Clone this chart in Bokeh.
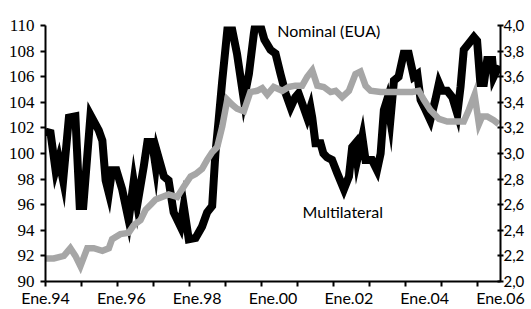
from bokeh.plotting import figure
from bokeh.models import Range1d, LinearAxis, FixedTicker, CustomJSTickFormatter, Label
from bokeh.embed import file_html
from bokeh.resources import INLINE

# ---- data ----
multi_x = [1994.00, 1994.14, 1994.28, 1994.37, 1994.49, 1994.65, 1994.83, 1994.95, 1995.05, 1995.25,
           1995.48, 1995.58, 1995.67, 1995.76, 1995.85, 1995.97, 1996.13, 1996.31, 1996.45, 1996.55,
           1996.73, 1996.83, 1996.96, 1997.06, 1997.10, 1997.29, 1997.42, 1997.56, 1997.75, 1997.84,
           1997.98, 1998.17, 1998.35, 1998.49, 1998.63, 1998.72, 1998.81, 1998.91, 1999.05, 1999.19,
           1999.32, 1999.51, 1999.65, 1999.79, 1999.88, 1999.97, 2000.08, 2000.25, 2000.39, 2000.53,
           2000.67, 2000.81, 2000.94, 2001.03, 2001.17, 2001.27, 2001.36, 2001.41, 2001.50, 2001.64,
           2001.72, 2001.82, 2001.96, 2002.10, 2002.29, 2002.43, 2002.52, 2002.61, 2002.66, 2002.80,
           2002.89, 2003.07, 2003.21, 2003.31, 2003.40, 2003.49, 2003.58, 2003.68, 2003.81, 2003.95,
           2004.09, 2004.23, 2004.33, 2004.42, 2004.56, 2004.69, 2004.83, 2004.93, 2005.02, 2005.16,
           2005.30, 2005.44, 2005.53, 2005.62, 2005.76, 2005.90, 2005.99, 2006.08, 2006.18, 2006.27,
           2006.41, 2006.45, 2006.55, 2006.64]
multi_y = [101.7, 101.6, 98.7, 99.6, 97.9, 102.8, 102.9, 95.9, 95.9, 103.0,
           101.8, 101.0, 97.9, 96.9, 98.7, 98.7, 97.2, 94.8, 97.8, 96.0,
           99.0, 100.9, 100.9, 99.0, 100.1, 98.2, 97.9, 95.4, 94.3, 95.9,
           93.3, 93.4, 94.3, 95.4, 95.9, 100.0, 102.6, 105.7, 109.6, 109.6,
           107.8, 104.2, 106.2, 109.4, 111.0, 110.0, 108.9, 108.1, 107.8, 106.2,
           104.7, 103.6, 104.4, 104.7, 103.6, 102.8, 103.6, 102.8, 100.8, 100.8,
           100.0, 99.7, 99.5, 98.5, 97.2, 98.2, 100.5, 100.8, 99.5, 101.3,
           99.5, 99.5, 98.7, 100.0, 103.4, 104.2, 102.6, 105.7, 106.0, 107.8,
           107.8, 106.0, 106.2, 104.2, 103.4, 102.6, 104.2, 105.5, 104.9, 104.9,
           104.4, 103.1, 105.2, 108.1, 108.6, 109.1, 108.8, 105.5, 105.5, 107.3,
           107.3, 106.0, 106.6, 106.5]

nominal_x = [1994.00, 1994.23, 1994.51, 1994.69, 1994.83, 1994.97, 1995.16, 1995.34, 1995.58, 1995.76,
             1995.85, 1996.08, 1996.31, 1996.45, 1996.64, 1996.78, 1996.92, 1997.06, 1997.24, 1997.42,
             1997.66, 1997.84, 1998.03, 1998.17, 1998.35, 1998.49, 1998.63, 1998.77, 1998.91, 1999.05,
             1999.19, 1999.32, 1999.51, 1999.69, 1999.88, 2000.02, 2000.16, 2000.34, 2000.58, 2000.76,
             2000.94, 2001.13, 2001.27, 2001.41, 2001.55, 2001.73, 2001.92, 2002.06, 2002.24, 2002.43,
             2002.61, 2002.75, 2002.89, 2003.03, 2003.31, 2003.68, 2004.05, 2004.19, 2004.37, 2004.51,
             2004.69, 2004.93, 2005.16, 2005.44, 2005.62, 2005.76, 2005.92, 2006.04, 2006.13, 2006.27,
             2006.45, 2006.59]
nominal_y = [2.18, 2.18, 2.20, 2.26, 2.20, 2.12, 2.26, 2.26, 2.24, 2.26,
             2.33, 2.37, 2.38, 2.44, 2.48, 2.56, 2.60, 2.64, 2.66, 2.68,
             2.66, 2.74, 2.82, 2.84, 2.88, 2.95, 3.01, 3.05, 3.21, 3.42,
             3.38, 3.35, 3.33, 3.48, 3.49, 3.51, 3.46, 3.52, 3.49, 3.52,
             3.53, 3.53, 3.60, 3.65, 3.53, 3.52, 3.48, 3.49, 3.44, 3.49,
             3.62, 3.64, 3.53, 3.49, 3.48, 3.48, 3.48, 3.48, 3.49, 3.42,
             3.34, 3.27, 3.25, 3.25, 3.25, 3.34, 3.46, 3.23, 3.29, 3.29,
             3.26, 3.23]

x_labels = ["Ene.94", "Ene.96", "Ene.98", "Ene.00", "Ene.02", "Ene.04", "Ene.06"]
year_ticks = list(range(1994, 2007))
left_ticks = list(range(90, 111, 2))
right_ticks = [2.0, 2.2, 2.4, 2.6, 2.8, 3.0, 3.2, 3.4, 3.6, 3.8, 4.0]

# ---- figure ----
x_start, x_end = 1994.0, 2006.64
p = figure(width=531, height=309, output_backend="svg", toolbar_location=None,
           x_range=Range1d(x_start, x_end), y_range=Range1d(90, 110),
           x_axis_type=None, y_axis_type=None,
           min_border_left=45, min_border_right=31, min_border_top=25, min_border_bottom=27)
p.extra_y_ranges = {"right": Range1d(2.0, 4.0)}
p.outline_line_color = None
p.background_fill_color = "white"
p.border_fill_color = "white"

label_font = "Lato"

ya = LinearAxis(ticker=FixedTicker(ticks=left_ticks, minor_ticks=[]),
                axis_line_width=2, major_tick_line_width=2, major_tick_out=5, major_tick_in=0,
                minor_tick_line_color=None,
                major_label_text_font="Liberation Sans Narrow", major_label_text_font_size="17px",
                major_label_text_color="black", major_label_standoff=6)
p.add_layout(ya, "left")

yr = LinearAxis(y_range_name="right", ticker=FixedTicker(ticks=right_ticks, minor_ticks=[]),
                formatter=CustomJSTickFormatter(code="return tick.toFixed(1).replace('.', ',');"),
                axis_line_width=2, major_tick_line_width=2, major_tick_out=3, major_tick_in=3,
                minor_tick_line_color=None,
                major_label_text_font=label_font, major_label_text_font_size="15px",
                major_label_text_color="black", major_label_standoff=0)
p.add_layout(yr, "right")

n = len(x_labels) - 1
label_pos = [x_start + i * (x_end - x_start - 1e-6) / n for i in range(n + 1)]
xa = LinearAxis(ticker=FixedTicker(ticks=label_pos, minor_ticks=year_ticks),
                formatter=CustomJSTickFormatter(args=dict(labels=x_labels), code="return labels[index];"),
                axis_line_width=2, major_tick_out=0, major_tick_in=0, major_tick_line_color=None,
                minor_tick_out=5, minor_tick_in=0, minor_tick_line_width=2,
                major_label_text_font=label_font, major_label_text_font_size="16px",
                major_label_text_color="black", major_label_standoff=1)
p.add_layout(xa, "below")

# ---- series ----
p.line(multi_x, multi_y, line_color="black", line_width=8, line_join="miter")
p.line(nominal_x, nominal_y, y_range_name="right", line_color="#a6a6a6", line_width=6.5, line_join="miter")

p.add_layout(Label(x=2000.44, y=109.6, text="Nominal (EUA)", text_font=label_font,
                   text_font_size="16px", text_baseline="middle", text_color="black"))
p.add_layout(Label(x=2001.14, y=95.5, text="Multilateral", text_font=label_font,
                   text_font_size="16px", text_baseline="middle", text_color="black"))

open("out.html", "w").write(file_html(p, INLINE))
